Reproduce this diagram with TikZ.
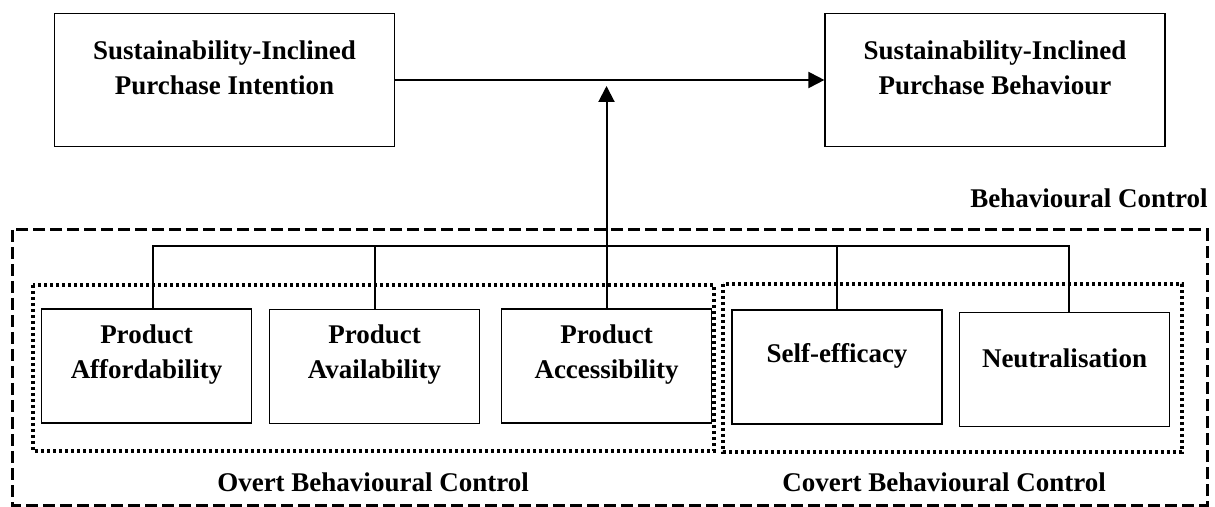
\documentclass[tikz,border=0pt]{standalone}
\usepackage{fontspec}
\setmainfont{Liberation Serif}
\usetikzlibrary{arrows.meta,positioning}

\begin{document}
\begin{tikzpicture}[
    x=0.5pt, y=-0.5pt,
    every node/.style={font=\fontsize{13.5}{17.5}\selectfont\bfseries},
    box/.style={draw, line width=0.6pt, minimum width=105pt, minimum height=57pt},
    bigbox/.style={draw, line width=0.6pt, minimum width=170pt, minimum height=66.5pt},
    inner/.style={align=center, yshift=5.75pt},
    arrow/.style={-{Triangle[length=8pt,width=8pt]}, line width=1pt},
    link/.style={line width=1pt},
    group/.style={line width=1.5pt, dash pattern=on 6pt off 2.5pt},
    subgroup/.style={line width=1.7pt, dash pattern=on 1.6pt off 1.4pt}
]
    \useasboundingbox (0,0) rectangle (1215,507);

    % Frames
    \draw[group] (12,230) rectangle (1207,505);
    \draw[subgroup] (33,285) rectangle (714,451);
    \draw[subgroup] (723,284) rectangle (1182,452);

    % Intention and behaviour
    \node[bigbox, label={[inner, yshift=0.25pt]center:{Sustainability-Inclined\\Purchase Intention}}] (intent) at (224.5,80) {};
    \node[bigbox, label={[inner, yshift=0.25pt]center:{Sustainability-Inclined\\Purchase Behaviour}}] (behav) at (995,80) {};

    % Control factors
    \node[box, label={[inner]center:{Product\\Affordability}}] (afford) at (146.5,366) {};
    \node[box, label={[inner]center:{Product\\Availability}}] (avail) at (374.5,366.5) {};
    \node[box, label={[inner]center:{Product\\Accessibility}}] (access) at (606.5,366) {};
    \node[box, label={[inner]center:{Self-efficacy}}] (selfeff) at (837,367) {};
    \node[box, label={[inner]center:{Neutralisation}}] (neutral) at (1064.5,369.5) {};

    % Group labels
    \node[anchor=base] (bclabel) at (1089,208) {Behavioural Control};
    \node[anchor=base] (overt) at (373,491) {Overt Behavioural Control};
    \node[anchor=base] (covert) at (944,491) {Covert Behavioural Control};

    % Connectors
    \coordinate (bus) at (0,246);
    \coordinate (meet) at (606.5,86);
    \draw[link] ([xshift=3pt]afford.north) |- ([xshift=2pt]bus -| neutral.north) -- ([xshift=2pt]neutral.north);
    \draw[link] (avail.north) -- (avail.north |- bus);
    \draw[link] (selfeff.north) -- (selfeff.north |- bus);
    \draw[arrow] (access.north) -- (meet);
    \draw[arrow] (intent.east) -- (behav.west);
\end{tikzpicture}
\end{document}
